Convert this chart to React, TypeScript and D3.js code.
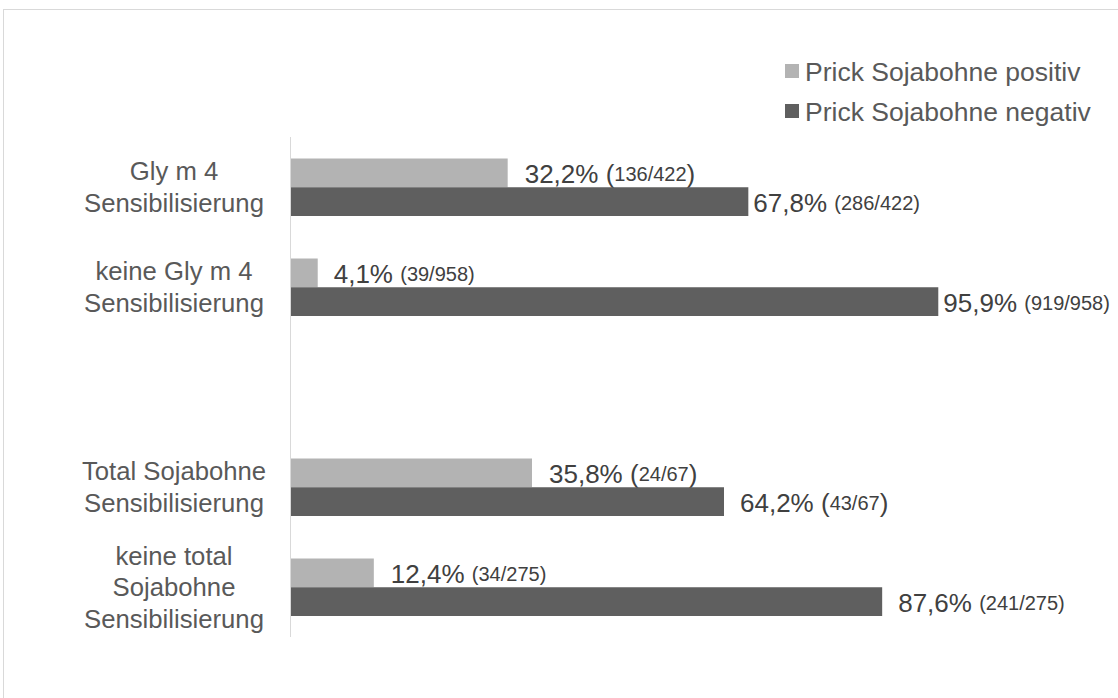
import React from "react";
import * as d3 from "d3";

const categories = ["g1", "g2", "gap", "g3", "g4"];
const categoryLabels: string[][] = [
  ["Gly m 4", "Sensibilisierung"],
  ["keine Gly m 4", "Sensibilisierung"],
  [],
  ["Total Sojabohne", "Sensibilisierung"],
  ["keine total", "Sojabohne", "Sensibilisierung"],
];
const seriesNames = ["Prick Sojabohne positiv", "Prick Sojabohne negativ"];
const positiv = [32.2, 4.1, null, 35.8, 12.4];
const negativ = [67.8, 95.9, null, 64.2, 87.6];
const positivCounts = ["136/422", "39/958", "", "24/67", "34/275"];
const negativCounts = ["286/422", "919/958", "", "43/67", "241/275"];

// label styling (not data)
const bigParens = [[true, false], [false, false], [false, false], [true, true], [false, false]];
const labelGaps = [[17, 5], [16, 5], [0, 0], [17, 16], [17, 16]];

const W = 1118;
const H = 698;
const colors = ["#b3b3b3", "#5f5f5f"];
const font = "'Liberation Sans', Arial, sans-serif";

function fmt(v: number) {
  return v.toFixed(1).replace(".", ",") + "%";
}

export default function App() {
  const x = d3.scaleLinear().domain([0, 100]).range([290, 966]);
  const y = d3.scaleBand().domain(categories).range([137, 637]).padding(0);
  const ySub = d3.scaleBand().domain(seriesNames).range([21.5, 79]);
  const seriesVals = [positiv, negativ];
  const seriesCounts = [positivCounts, negativCounts];
  const small = 20;

  return (
    <svg
      width={W}
      height={H}
      style={{ position: "absolute", left: 0, top: 0, background: "#fff" }}
      fontFamily={font}
    >
      <rect x={3.5} y={9.5} width={W + 10} height={H + 10} fill="#fff" stroke="#d9d9d9" strokeWidth={1} />
      {/* legend */}
      {seriesNames.map((s, i) => (
        <g key={s} transform={`translate(785, ${64 + i * 40})`}>
          <rect x={0} y={0} width={14} height={14} fill={colors[i]} />
          <text x={20} y={7.5} dominantBaseline="central" fontSize={26.5} fill="#595959">
            {s}
          </text>
        </g>
      ))}
      {/* bars */}
      {categories.map((c, ci) => (
        <g key={c}>
          {seriesNames.map((s, si) => {
            const v = seriesVals[si][ci];
            if (v == null) return null;
            const y0 = (y(c) as number) + (ySub(s) as number);
            const h = ySub.bandwidth();
            const big = bigParens[ci][si];
            const gap = labelGaps[ci][si];
            return (
              <g key={s}>
                <rect x={x(0)} y={y0} width={x(v) - x(0)} height={h} fill={colors[si]} />
                <text
                  x={x(v) + gap}
                  y={y0 + h / 2 + 1}
                  dominantBaseline="central"
                  fill="#404040"
                  fontSize={26}
                >
                  <tspan>{fmt(v)} </tspan>
                  <tspan fontSize={big ? 26 : small}>(</tspan>
                  <tspan fontSize={small}>{seriesCounts[si][ci]}</tspan>
                  <tspan fontSize={big ? 26 : small}>)</tspan>
                </text>
              </g>
            );
          })}
        </g>
      ))}
      {/* axis line */}
      <line x1={290.5} x2={290.5} y1={137} y2={637} stroke="#d9d9d9" strokeWidth={1} />
      {/* category labels */}
      {categories.map((c, ci) => {
        const lines = categoryLabels[ci];
        const cy = (y(c) as number) + y.bandwidth() / 2;
        const lh = 31.5;
        const start = cy - ((lines.length - 1) * lh) / 2;
        return (
          <text key={c} textAnchor="middle" fontSize={25.7} fill="#595959">
            {lines.map((l, li) => (
              <tspan key={li} x={174} y={start + li * lh} dominantBaseline="central">
                {l}
              </tspan>
            ))}
          </text>
        );
      })}
    </svg>
  );
}
